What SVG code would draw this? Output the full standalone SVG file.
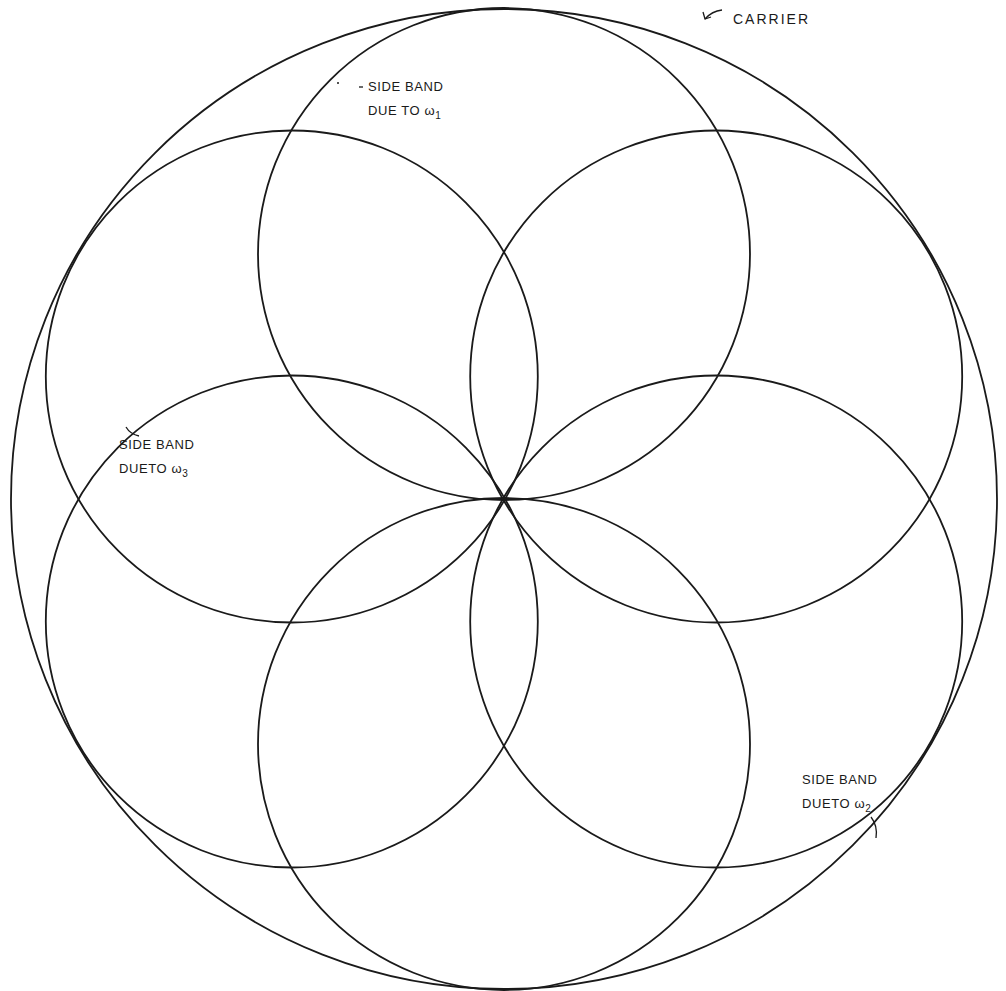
<svg xmlns="http://www.w3.org/2000/svg" width="1006" height="991" viewBox="0 0 1006 991">
<style>
.c{fill:none;stroke:#1a1a1a;stroke-width:1.8}
.l{fill:none;stroke:#1a1a1a;stroke-width:1.3}
text{font-family:"Liberation Sans",Arial,sans-serif;font-size:13px;fill:#1a1a1a;letter-spacing:0.6px}
.s{font-size:10px}
.big{font-size:14px;letter-spacing:2px}
</style>
<rect width="1006" height="991" fill="#fff"/>
<g id="carrier"><ellipse class="c" cx="504" cy="499" rx="493" ry="490"/></g>
<g id="sb1"><circle class="c" cx="504" cy="254" r="246"/></g>
<g id="sb-ur"><circle class="c" cx="716.2" cy="376.5" r="246"/></g>
<g id="sb2"><circle class="c" cx="716.2" cy="621.5" r="246"/></g>
<g id="sb-b"><circle class="c" cx="504" cy="744" r="246"/></g>
<g id="sb3"><circle class="c" cx="291.8" cy="621.5" r="246"/></g>
<g id="sb-ul"><circle class="c" cx="291.8" cy="376.5" r="246"/></g>
<g id="connectors">
<path class="l" d="M722 10 Q712 11 705 19"/>
<path class="l" d="M703 12 L705 19 L711 17"/>
<path class="l" d="M359 87 L363 87"/>
<circle cx="338" cy="83" r="1" fill="#1a1a1a"/>
<path class="l" d="M126 427 Q130 434 139 436"/>
<path class="l" d="M871 817 Q878 826 876 838"/>
</g>
<g id="labels">
<text class="big" x="733" y="24">CARRIER</text>
<text x="368" y="91">SIDE BAND</text>
<text x="368" y="115">DUE TO ω<tspan class="s" dy="4">1</tspan></text>
<text x="119" y="449">SIDE BAND</text>
<text x="119" y="473">DUETO ω<tspan class="s" dy="4">3</tspan></text>
<text x="802" y="784">SIDE BAND</text>
<text x="802" y="808">DUETO ω<tspan class="s" dy="4">2</tspan></text>
</g>
</svg>
